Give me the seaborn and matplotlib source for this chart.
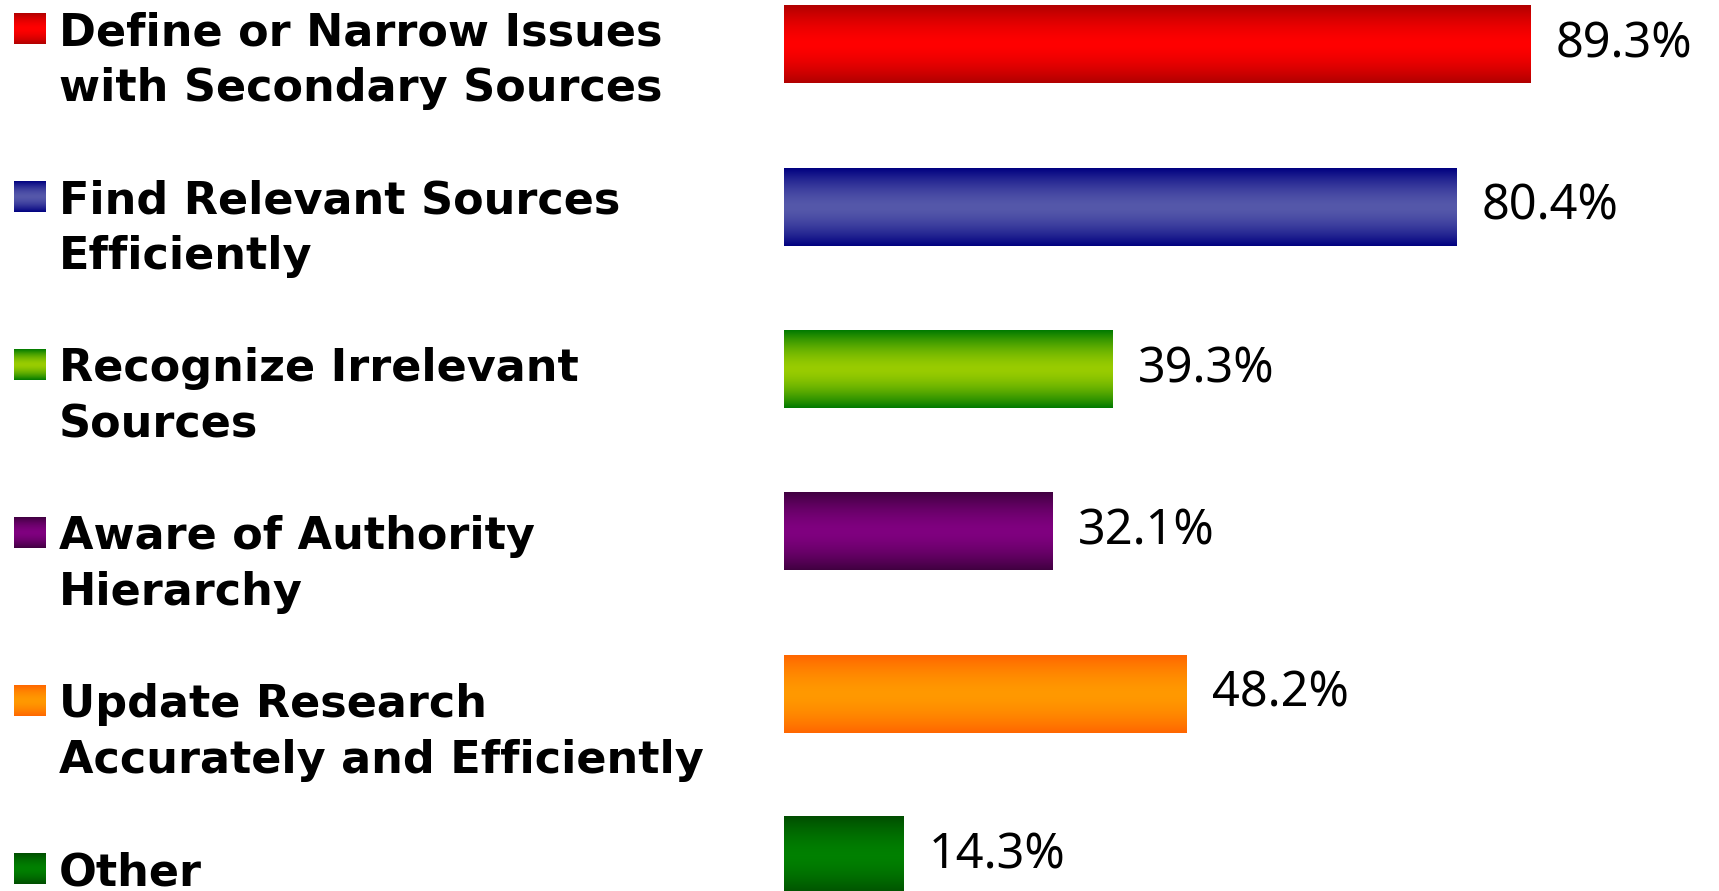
import numpy as np
import matplotlib
matplotlib.use('Agg')
import matplotlib.pyplot as plt
from matplotlib.colors import LinearSegmentedColormap
import seaborn as sns

# Data
categories = [
    'Define or Narrow Issues\nwith Secondary Sources',
    'Find Relevant Sources\nEfficiently',
    'Recognize Irrelevant\nSources',
    'Aware of Authority\nHierarchy',
    'Update Research\nAccurately and Efficiently',
    'Other',
]
values = [89.3, 80.4, 39.3, 32.1, 48.2, 14.3]
edge_colors = ['#B00000', '#000080', '#007A00', '#400040', '#FF6600', '#004D00']
mid_colors = ['#FF0000', '#5558AA', '#99CC00', '#800080', '#FF9900', '#008000']

W, H = 1719, 891

sns.set_theme(style='white')
plt.rcParams['font.family'] = ['DejaVu Sans']

fig = plt.figure(figsize=(W / 100, H / 100), dpi=100)
ax = fig.add_axes([784 / W, 0, 836 / W, 1])

sns.barplot(x=values, y=categories, hue=categories, palette=mid_colors,
            orient='h', width=0.48, legend=False, ax=ax)


def gradient(edge, mid, n=256):
    cmap = LinearSegmentedColormap.from_list('g', [edge, mid])
    s = np.linspace(0, 1, n)
    t = 1 - np.abs(2 * s - 1) ** 1.6
    return cmap(t)[:, None, :3]


# gradient fill over each bar
for p, e, m in zip(ax.patches, edge_colors, mid_colors):
    x0, y0, w, h = p.get_x(), p.get_y(), p.get_width(), p.get_height()
    p.set_facecolor('none')
    p.set_edgecolor('none')
    ax.imshow(gradient(e, m), extent=(x0, x0 + w, y0 + h, y0),
              aspect='auto', origin='upper', zorder=2)

for i, v in enumerate(values):
    ax.text(v + 3.0, i, f'{v:.1f}%', va='center', ha='left',
            fontsize=35, family=['Noto Sans', 'DejaVu Sans'], color='black',
            clip_on=False)

ax.set_xlim(0, 100)
ax.set_ylim(5.216, -0.2736)
ax.axis('off')

# left legend with gradient squares
leg = fig.add_axes([0, 0, 1, 1])
leg.set_xlim(0, W)
leg.set_ylim(H, 0)
leg.axis('off')
for i, (lab, e, m) in enumerate(zip(categories, edge_colors, mid_colors)):
    top = 13 + i * 168
    leg.imshow(gradient(e, m), extent=(14, 46, top + 31, top),
               aspect='auto', origin='upper')
    for j, line in enumerate(lab.split('\n')):
        leg.text(59, top + 32 + j * 56, line, va='baseline', ha='left',
                 fontsize=32, fontweight='bold', color='black')
leg.set_xlim(0, W)
leg.set_ylim(H, 0)

fig.savefig('out.png', dpi=100)
